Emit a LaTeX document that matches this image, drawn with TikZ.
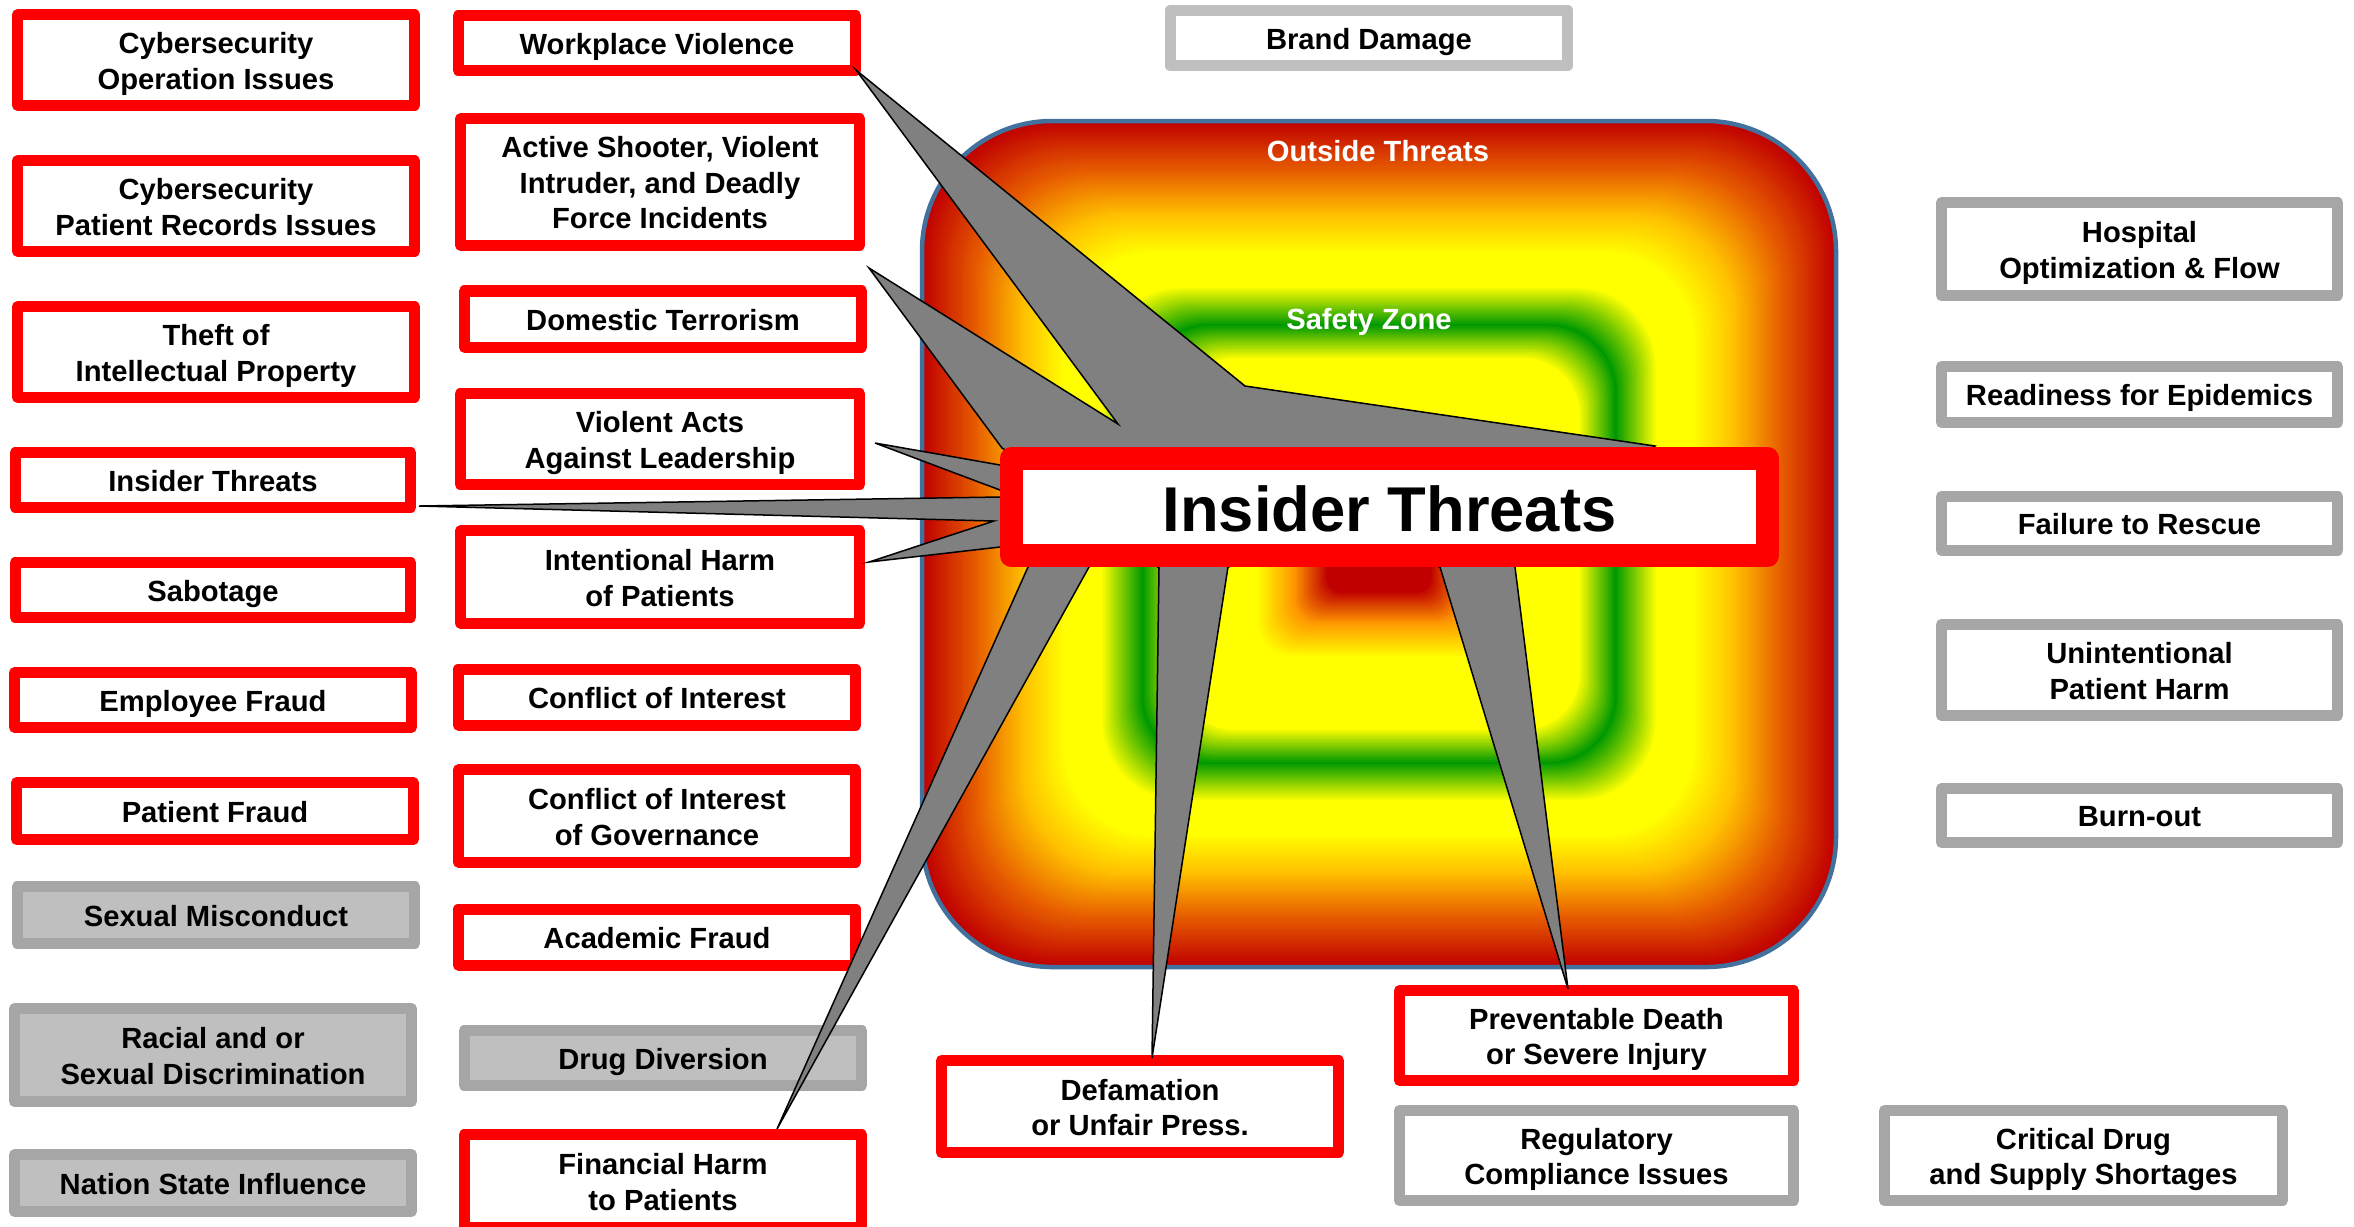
\documentclass[tikz,border=0pt]{standalone}
\usepackage{fontspec}
\setmainfont{Liberation Sans}
\definecolor{boxred}{HTML}{FF0000}
\definecolor{gborder}{HTML}{A6A6A6}
\definecolor{gfill}{HTML}{BFBFBF}
\definecolor{spikegray}{HTML}{808080}
\definecolor{sqborder}{HTML}{41719C}
\definecolor{cA}{HTML}{C00000}
\definecolor{cB}{HTML}{E86000}
\definecolor{cC}{HTML}{FFC000}
\definecolor{yel}{HTML}{FFFF00}
\definecolor{grn}{HTML}{009900}
\definecolor{org}{HTML}{FF9900}
\newcommand\labelfont{\fontsize{8.3}{10.1}\selectfont\bfseries}
\newcommand\bigfont{\fontsize{18}{20}\selectfont\bfseries}
\newcommand\bt[1]{\raisebox{-1.2pt}[\height][\depth]{\begin{tabular}{@{}c@{}}#1\end{tabular}}}
\newcommand\gradseg[5]{%
  \foreach \k in {0,...,#5}{%
    \pgfmathsetmacro\gt{#1+(#2-#1)*\k/#5}%
    \pgfmathtruncatemacro\gp{100*\k/#5}%
    \pgfmathsetmacro\ghw{457*(1-\gt)}%
    \pgfmathsetmacro\ghh{423*(1-\gt)}%
    \pgfmathsetmacro\grr{130*(1-\gt)*0.28453+0.01}%
    \fill[#4!\gp!#3, rounded corners=\grr pt] (1379-\ghw,544-\ghh) rectangle (1379+\ghw,544+\ghh);
  }}
\tikzset{
  boxbase/.style={font=\labelfont, inner sep=0pt, line width=0.11cm, line join=round},
  redbox/.style={boxbase, draw=boxred, fill=white},
  graybox/.style={boxbase, draw=gborder, fill=gfill},
  gframe/.style={boxbase, draw=gborder, fill=white},
  lframe/.style={boxbase, draw=gfill, fill=white},
  central/.style={draw=boxred, fill=white, line width=0.23cm, line join=round, inner sep=0pt, font=\bigfont},
  spike/.style={fill=spikegray, draw=black, line width=0.015cm, line join=miter},
  zone/.style={text=white, font=\labelfont, inner sep=0pt}
}
\begin{document}
\begin{tikzpicture}[x=0.01cm,y=-0.01cm]
\useasboundingbox (0,0) rectangle (2354,1226);
\clip (0,0) rectangle (2354,1226);
% gradient square
\gradseg{0}{0.12}{cA}{cB}{24}
\gradseg{0.12}{0.22}{cB}{cC}{20}
\gradseg{0.22}{0.31}{cC}{yel}{18}
\gradseg{0.31}{0.39}{yel}{yel}{1}
\gradseg{0.39}{0.48}{yel}{grn}{18}
\gradseg{0.48}{0.56}{grn}{yel}{16}
\gradseg{0.56}{0.73}{yel}{yel}{1}
\gradseg{0.73}{0.81}{yel}{org}{16}
\gradseg{0.81}{0.885}{org}{cA}{15}
\gradseg{0.885}{0.99}{cA}{cA}{1}
\draw[sqborder, line width=0.045cm, rounded corners=36.99pt] (922,121) rectangle (1836,967);
\node[zone] (outside) at (1378,151) {Outside Threats};
\node[zone] (safety) at (1369,322) {Safety Zone};

% left column
\node[redbox, minimum width=3.97cm, minimum height=0.90cm] (cybop) at (216,60) {\bt{Cybersecurity\\Operation Issues}};
\node[redbox, minimum width=3.97cm, minimum height=0.90cm] (cybpr) at (216,206) {\bt{Cybersecurity\\Patient Records Issues}};
\node[redbox, minimum width=3.97cm, minimum height=0.90cm] (theft) at (216,352) {\bt{Theft of\\Intellectual Property}};
\node[redbox, minimum width=3.95cm, minimum height=0.55cm] (insl) at (213,480) {\bt{Insider Threats}};
\node[redbox, minimum width=3.95cm, minimum height=0.55cm] (sabo) at (213,590) {\bt{Sabotage}};
\node[redbox, minimum width=3.96cm, minimum height=0.55cm] (empf) at (213,700) {\bt{Employee Fraud}};
\node[redbox, minimum width=3.96cm, minimum height=0.57cm] (patf) at (215,811) {\bt{Patient Fraud}};
\node[graybox, minimum width=3.97cm, minimum height=0.57cm] (sexm) at (216,915) {\bt{Sexual Misconduct}};
\node[graybox, minimum width=3.96cm, minimum height=0.93cm] (racial) at (213,1055) {\bt{Racial and or\\Sexual Discrimination}};
\node[graybox, minimum width=3.96cm, minimum height=0.57cm] (nation) at (213,1183) {\bt{Nation State Influence}};

% middle column
\node[redbox, minimum width=3.97cm, minimum height=0.55cm] (wv) at (657,43) {\bt{Workplace Violence}};
\node[redbox, minimum width=3.99cm, minimum height=1.26cm] (as) at (660,182) {\bt{Active Shooter, Violent\\Intruder, and Deadly\\Force Incidents}};
\node[redbox, minimum width=3.97cm, minimum height=0.56cm] (dt) at (663,319) {\bt{Domestic Terrorism}};
\node[redbox, minimum width=3.99cm, minimum height=0.91cm] (va) at (660,439) {\bt{Violent Acts\\Against Leadership}};
\node[redbox, minimum width=3.99cm, minimum height=0.92cm] (ih) at (660,577) {\bt{Intentional Harm\\of Patients}};
\node[redbox, minimum width=3.97cm, minimum height=0.56cm] (coi) at (657,697) {\bt{Conflict of Interest}};
\node[redbox, minimum width=3.97cm, minimum height=0.92cm] (coig) at (657,816) {\bt{Conflict of Interest\\of Governance}};
\node[redbox, minimum width=3.97cm, minimum height=0.56cm] (af) at (657,937) {\bt{Academic Fraud}};
\node[graybox, minimum width=3.97cm, minimum height=0.55cm] (dd) at (663,1058) {\bt{Drug Diversion}};
\node[redbox, minimum width=3.97cm, minimum height=0.93cm] (fh) at (663,1181) {\bt{Financial Harm\\to Patients}};

% right column
\node[gframe, minimum width=3.96cm, minimum height=0.93cm] (hosp) at (2139.5,249) {\bt{Hospital\\Optimization \& Flow}};
\node[gframe, minimum width=3.96cm, minimum height=0.56cm] (ready) at (2139.5,394.5) {\bt{Readiness for Epidemics}};
\node[gframe, minimum width=3.96cm, minimum height=0.54cm] (fail) at (2139.5,523.5) {\bt{Failure to Rescue}};
\node[gframe, minimum width=3.96cm, minimum height=0.91cm] (unint) at (2139.5,670) {\bt{Unintentional\\Patient Harm}};
\node[gframe, minimum width=3.96cm, minimum height=0.54cm] (burn) at (2139.5,815.5) {\bt{Burn-out}};

% bottom and top
\node[redbox, minimum width=3.97cm, minimum height=0.92cm] (defam) at (1140,1106.5) {\bt{Defamation\\or Unfair Press.}};
\node[redbox, minimum width=3.94cm, minimum height=0.90cm] (prev) at (1596.5,1035.5) {\bt{Preventable Death\\or Severe Injury}};
\node[gframe, minimum width=3.94cm, minimum height=0.90cm] (reg) at (1596.5,1155.5) {\bt{Regulatory\\Compliance Issues}};
\node[gframe, minimum width=3.98cm, minimum height=0.90cm] (crit) at (2083.5,1155.5) {\bt{Critical Drug\\and Supply Shortages}};
\node[lframe, minimum width=3.97cm, minimum height=0.555cm] (brand) at (1369,38) {\bt{Brand Damage}};

% spikes
\coordinate (tWV) at (856,70);
\coordinate (tDT) at (869,268);
\coordinate (nA) at (1118,424);
\coordinate (tVA) at (875,443);
\coordinate (tIL) at (419,506);
\coordinate (nB) at (994,521);
\coordinate (tIH) at (869,562);
\coordinate (tFH) at (777,1129);
\coordinate (tDF) at (1152,1058);
\coordinate (tPD) at (1568,989);
\coordinate (b1) at (1002,448);
\coordinate (w1) at (1245,386);
\coordinate (w2) at (1655,446);
\coordinate (p1) at (1515,567);
\coordinate (p2) at (1440,567);
\coordinate (d1) at (1228,567);
\coordinate (d2) at (1159,568);
\coordinate (f1) at (1089,567);
\coordinate (f2) at (1028,567);
\coordinate (i1) at (1000,547);
\coordinate (l1) at (1000,497);
\coordinate (v1) at (1000,490);
\coordinate (v2) at (1000,465);
\draw[spike] (b1) -- (tDT) -- (nA) -- (tWV) -- (w1) -- (w2) -- (p1) -- (tPD) -- (p2)
  -- (1334,540) -- (d1) -- (tDF) -- (d2) -- (1124,540) -- (f1) -- (tFH) -- (f2)
  -- (1020,540) -- (i1) -- (tIH) -- (nB) -- (tIL) -- (l1) -- (1020,493) -- (v1)
  -- (tVA) -- (v2) -- (1020,458) -- cycle;

% central box
\node[central, minimum width=7.56cm, minimum height=0.97cm] (insider) at (1389.5,507) {\rule{0pt}{14pt}Insider Threats};
\end{tikzpicture}
\end{document}
